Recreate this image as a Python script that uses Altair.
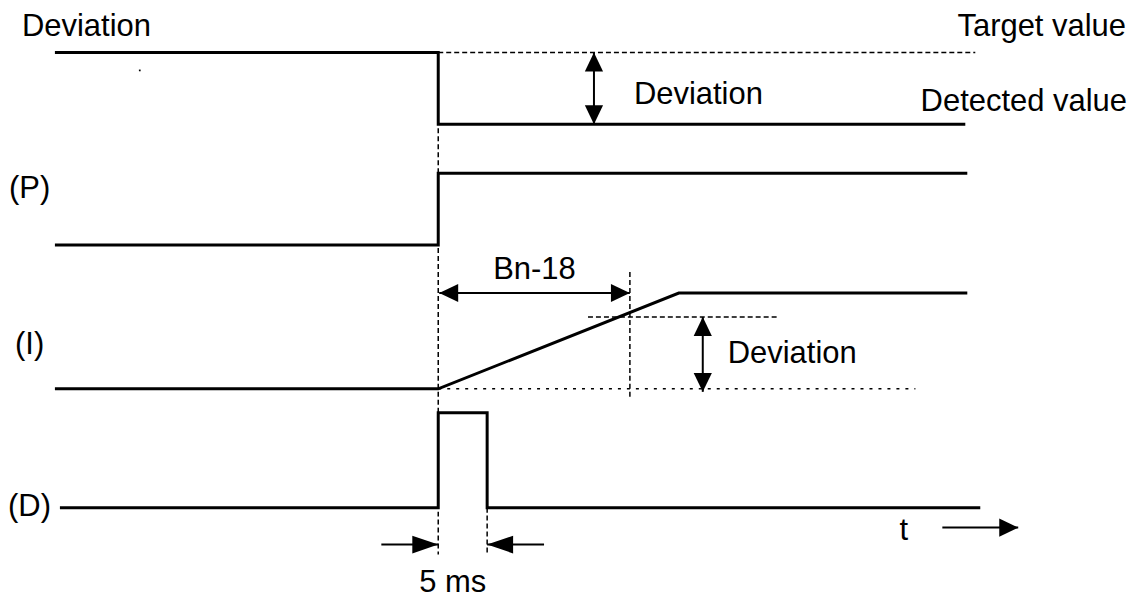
import altair as alt
import pandas as pd

# ---- waveform polylines (positions in the reference's pixel frame) ----
dev_x = [53, 437, 437, 965]
dev_y = [52, 52, 124, 124]
p_x = [53, 437, 437, 967]
p_y = [245, 245, 173, 173]
i_x = [53, 437, 678, 967]
i_y = [389, 389, 293, 293]
d_x = [58, 437, 437, 486, 486, 980]
d_y = [508, 508, 413, 413, 508, 508]

# ---- dashed guide segments ----
dash_x1 = [437, 437, 629, 486, 587]
dash_y1 = [52, 128, 272, 508, 317]
dash_x2 = [975, 437, 629, 486, 777]
dash_y2 = [52, 555, 398, 555, 317]

# ---- dotted guide segment ----
dot_x1 = [437]
dot_y1 = [389]
dot_x2 = [915]
dot_y2 = [389]

# ---- arrow shafts ----
shaft_x1 = [593, 438, 702, 380, 543, 942]
shaft_y1 = [52, 293, 317, 545, 545, 528]
shaft_x2 = [593, 629, 702, 437, 486, 1018]
shaft_y2 = [124, 293, 392, 545, 545, 528]

# ---- arrow heads (tip position, direction in degrees clockwise from right) ----
head_x = [593, 593, 438, 629, 702, 702, 1018]
head_y = [52, 124, 293, 293, 317, 392, 528]
head_angle = [270, 90, 180, 0, 270, 90, 0]
# the two long heads of the "5 ms" marker
long_head_x = [437, 486]
long_head_y = [545, 545]
long_head_angle = [0, 180]

# ---- labels ----
left_labels = ["Deviation", "Deviation", "(P)", "Bn-18", "(I)", "Deviation", "(D)", "5 ms", "t"]
left_x = [20, 633, 7, 492, 13, 727, 6, 418, 899]
left_y = [36, 104, 198, 279, 354, 363, 516, 593, 540]
right_labels = ["Target value", "Detected value"]
right_x = [1126, 1127]
right_y = [36, 111]

# stray dot in the reference
speck_x = [138]
speck_y = [70]

FONT = "Liberation Sans"
FS = 31

xs = alt.Scale(domain=[8, 1134], nice=False, zero=False)
ys = alt.Scale(domain=[8, 591], nice=False, zero=False, reverse=True)

rows = []
for name, xv, yv in [("dev", dev_x, dev_y), ("p", p_x, p_y), ("i", i_x, i_y), ("d", d_x, d_y)]:
    for k, (a, b) in enumerate(zip(xv, yv)):
        rows.append({"series": name, "k": k, "x": a, "y": b})
wave = pd.DataFrame(rows)

dash = pd.DataFrame({"x": dash_x1, "y": dash_y1, "x2": dash_x2, "y2": dash_y2})
dot = pd.DataFrame({"x": dot_x1, "y": dot_y1, "x2": dot_x2, "y2": dot_y2})
shaft = pd.DataFrame({"x": shaft_x1, "y": shaft_y1, "x2": shaft_x2, "y2": shaft_y2})
heads = pd.DataFrame({"x": head_x, "y": head_y, "ang": head_angle})
lheads = pd.DataFrame({"x": long_head_x, "y": long_head_y, "ang": long_head_angle})
ltxt = pd.DataFrame({"label": left_labels, "x": left_x, "y": left_y})
rtxt = pd.DataFrame({"label": right_labels, "x": right_x, "y": right_y})
speck = pd.DataFrame({"x": speck_x, "y": speck_y})

X = lambda f="x": alt.X(f"{f}:Q", scale=xs, axis=None)
Y = lambda f="y": alt.Y(f"{f}:Q", scale=ys, axis=None)

waves = alt.Chart(wave).mark_line(
    color="black", strokeWidth=3, strokeJoin="miter", strokeCap="butt"
).encode(x=X(), y=Y(), detail="series:N", order="k:Q")

def seg(df, **kw):
    return alt.Chart(df).mark_rule(color="black", **kw).encode(
        x=X(), y=Y(), x2="x2:Q", y2="y2:Q"
    )

dashes = seg(dash, strokeWidth=1.5, strokeDash=[5, 3])
dots = seg(dot, strokeWidth=1.5, strokeDash=[3, 6])
shafts = seg(shaft, strokeWidth=2)

def head_layer(df, path, size):
    return alt.Chart(df).mark_point(
        shape=path, filled=True, color="black", opacity=1, size=size, strokeWidth=0
    ).encode(x=X(), y=Y(), angle=alt.Angle("ang:Q", scale=None))

arrowheads = head_layer(heads, "M0,0L-1,-0.48L-1,0.48Z", 1444)
longheads = head_layer(lheads, "M0,0L-1,-0.34L-1,0.34Z", 2704)

specks = alt.Chart(speck).mark_square(color="black", size=3, opacity=1).encode(x=X(), y=Y())

ltext = alt.Chart(ltxt).mark_text(
    align="left", baseline="alphabetic", font=FONT, fontSize=FS, color="black"
).encode(x=X(), y=Y(), text="label:N")
rtext = alt.Chart(rtxt).mark_text(
    align="right", baseline="alphabetic", font=FONT, fontSize=FS, color="black"
).encode(x=X(), y=Y(), text="label:N")

chart = alt.layer(
    dashes, dots, waves, shafts, arrowheads, longheads, specks, ltext, rtext
).properties(
    width=1126, height=583, padding=0, background="white"
).configure_view(strokeWidth=0)

chart.save("out.html", embed_options={"renderer": "svg", "actions": False})
